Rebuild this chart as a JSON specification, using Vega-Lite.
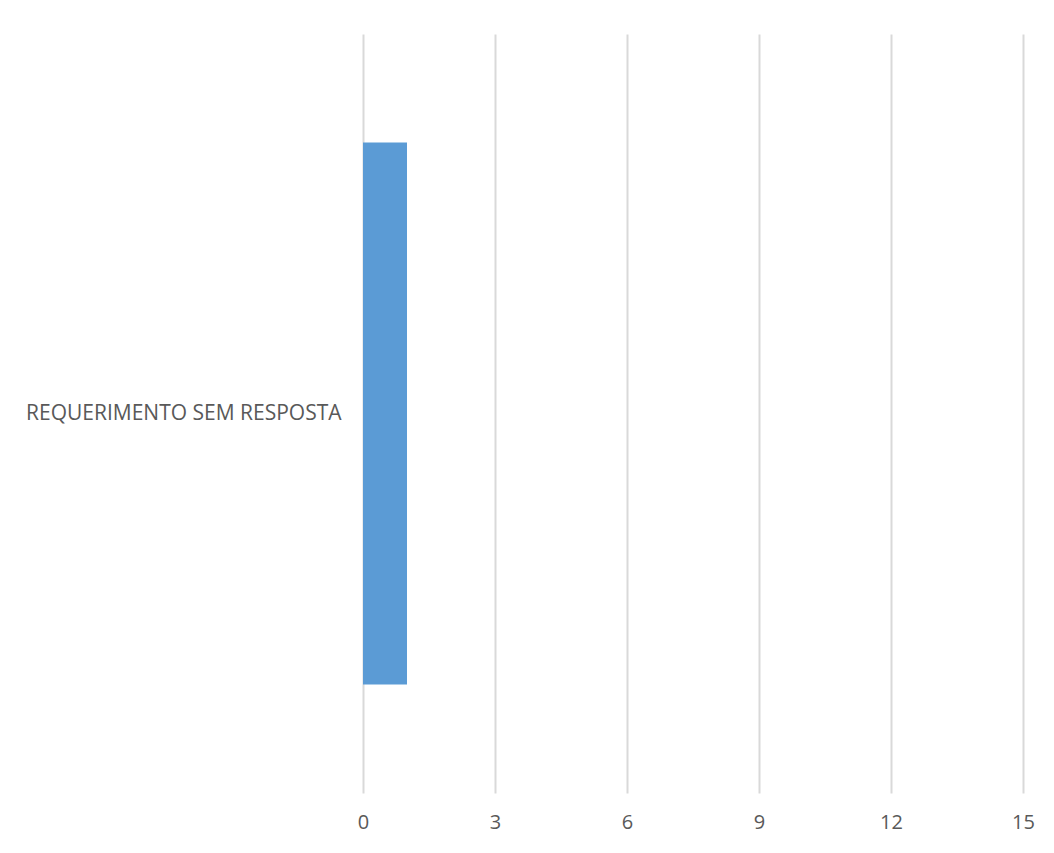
{
  "$schema": "https://vega.github.io/schema/vega-lite/v6.json",
  "autosize": {"type": "none"},
  "padding": {"left": 363, "top": 34, "right": 31, "bottom": 60},
  "width": 660,
  "height": 759,
  "background": "white",
  "config": {"view": {"stroke": null}},
  "data": {"values": [{"categoria": "REQUERIMENTO SEM RESPOSTA", "valor": 1}]},
  "mark": {"type": "bar", "color": "#5B9BD5"},
  "encoding": {
    "y": {
      "field": "categoria", "type": "nominal",
      "scale": {"paddingInner": 0.286, "paddingOuter": 0.143},
      "axis": {"title": null, "domain": false, "ticks": false, "labelFont": "Open Sans", "labelFontSize": 21, "labelColor": "#595959", "labelPadding": 22, "labelLimit": 400}
    },
    "x": {
      "field": "valor", "type": "quantitative",
      "scale": {"domain": [0, 15], "nice": false},
      "axis": {"title": null, "values": [0, 3, 6, 9, 12, 15], "domain": false, "ticks": false, "grid": true, "gridColor": "#D9D9D9", "gridWidth": 2, "labelFont": "Open Sans", "labelFontSize": 20, "labelColor": "#595959", "labelPadding": 19, "labelFlush": false}
    }
  }
}
